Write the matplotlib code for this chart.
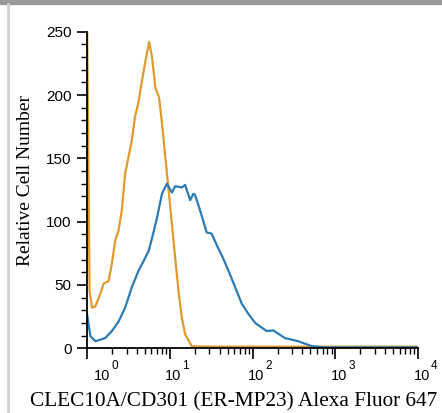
import numpy as np
import matplotlib
matplotlib.use("Agg")
import matplotlib.pyplot as plt
from matplotlib.ticker import LogLocator, MultipleLocator, NullFormatter

plt.rcParams["font.family"] = ["Liberation Sans", "DejaVu Sans"]

# isotype control (orange): log10 fluorescence vs relative cell number
iso_logx = [0.0, 0.03, 0.06, 0.10, 0.16, 0.20, 0.26, 0.30, 0.34, 0.38, 0.42,
            0.46, 0.50, 0.54, 0.58, 0.62, 0.66, 0.70, 0.75, 0.785, 0.825,
            0.87, 0.905, 0.945, 0.985, 1.025, 1.065, 1.105, 1.145, 1.185,
            1.265, 1.5, 2.0, 2.5, 3.0, 4.0]
iso_count = [262, 45, 32, 33, 43, 51, 53, 67, 85, 93, 109,
             138, 151, 164, 183, 194, 210, 225, 242, 230, 206,
             198, 178, 151, 125, 98, 71, 45, 24, 11,
             1.5, 1.2, 1.2, 1.2, 1.2, 1.2]

# CLEC10A/CD301 stained sample (blue)
stain_logx = [0.0, 0.04, 0.10, 0.22, 0.30, 0.38, 0.46, 0.54, 0.62, 0.70, 0.745,
              0.785, 0.845, 0.905, 0.965, 1.025, 1.065, 1.145, 1.185, 1.245,
              1.285, 1.305, 1.365, 1.445, 1.505, 1.57, 1.63, 1.71, 1.79, 1.87,
              1.95, 2.03, 2.17, 2.25, 2.39, 2.55, 2.715, 2.875, 3.5, 4.0]
stain_count = [27, 9.5, 5.5, 8, 13.5, 21, 32, 48, 61, 71, 77,
               87, 103, 122, 130, 123, 128, 127, 129, 117,
               122, 121, 109, 91.5, 90.5, 81, 73, 61, 48, 35,
               27, 20, 13.5, 14, 8, 5.5, 1.6, 0.6, 0.6, 0.6]

decades = [0, 1, 2, 3, 4]

fig = plt.figure(figsize=(4.42, 4.13), dpi=100)
ax = fig.add_axes([0.197, 0.157, 0.749, 0.766])

ax.plot(10 ** np.array(iso_logx), iso_count, color="#DE9B2E", lw=1.6,
        solid_joinstyle="round")
ax.plot(10 ** np.array(stain_logx), stain_count, color="#2C7BB4", lw=1.6,
        solid_joinstyle="round")

ax.set_xscale("log")
ax.set_xlim(1, 1e4)
ax.set_ylim(0, 250)

for side in ("top", "right"):
    ax.spines[side].set_visible(False)
for side in ("left", "bottom"):
    ax.spines[side].set_linewidth(1.3)

ax.yaxis.set_major_locator(MultipleLocator(50))
ax.yaxis.set_minor_locator(MultipleLocator(10))
ax.xaxis.set_major_locator(LogLocator(base=10, numticks=10))
ax.xaxis.set_minor_locator(LogLocator(base=10, subs=np.arange(2, 10), numticks=10))
ax.xaxis.set_major_formatter(NullFormatter())
ax.xaxis.set_minor_formatter(NullFormatter())

ax.tick_params(axis="both", which="major", direction="out", length=7, width=1.2,
               labelsize=11, pad=4)
ax.tick_params(axis="both", which="minor", direction="out", length=4, width=1.0)
ax.tick_params(axis="x", which="major", length=8)

# decade labels: "10" sits on the tick, exponent raised to its right
for e in decades:
    shift = 10.8 if e == 0 else 2.5
    ax.annotate("10", xy=(10 ** e, 0), xycoords=("data", "axes fraction"),
                xytext=(shift, -20), textcoords="offset points",
                ha="center", va="center", fontsize=10.5)
    ax.annotate(str(e), xy=(10 ** e, 0), xycoords=("data", "axes fraction"),
                xytext=(shift + 9, -12.5), textcoords="offset points",
                ha="center", va="center", fontsize=8.5)

ax.set_xlabel("CLEC10A/CD301 (ER-MP23) Alexa Fluor 647", family="Liberation Serif",
              fontsize=15.3, va="center")
ax.xaxis.set_label_coords(0.444, -0.17)
ax.set_ylabel("Relative Cell Number", family="Liberation Serif", fontsize=14,
              va="center")
ax.yaxis.set_label_coords(-0.187, 0.53)

# screenshot frame
fig.patches.append(plt.Rectangle((0, 0.99), 1, 0.01, transform=fig.transFigure,
                                 color="#9a9a9a", zorder=0))
fig.lines.append(plt.Line2D([0.018, 0.018], [0, 0.99], transform=fig.transFigure,
                            color="#d0d0d0", lw=2))

fig.savefig("out.png", dpi=100)
